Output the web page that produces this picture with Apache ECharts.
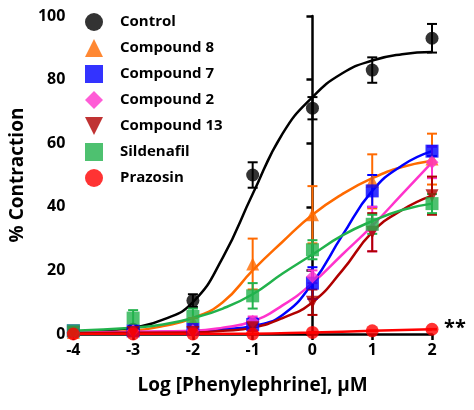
<!DOCTYPE html>
<html><head><meta charset="utf-8">
<script src="https://cdn.jsdelivr.net/npm/echarts@6/dist/echarts.min.js"></script>
<style>html,body{margin:0;background:#fff}#c{width:474px;height:410px}</style>
</head><body><div id="c"></div>
<script>
// measured points [logX, mean, sem]
var control = [[-4,0.5,0.5],[-3,1.5,0.5],[-2,10.5,2],[-1,50,4],[0,71,3.5],[1,83,4],[2,93,4.5]];
var comp8 = [[-4,0.5,0.5],[-3,1,0.5],[-2,4,1],[-1,22,8],[0,37.5,9],[1,48,8.5],[2,55,8]];
var comp7 = [[-4,1,0.5],[-3,1,0.5],[-2,1.5,1],[-1,3,2],[0,16,5],[1,45,5],[2,57.5,1.5]];
var comp2 = [[-4,0.5,0.5],[-3,1,0.5],[-2,1,0.5],[-1,4,1.5],[0,18,2],[1,33,7],[2,54,5]];
var comp13 = [[-4,0.5,0.5],[-3,0.5,0.5],[-2,0.5,0.5],[-1,2,1],[0,10,4],[1,32,6],[2,43.5,6]];
var sild = [[-4,1,0.5],[-3,5,2.5],[-2,5.5,2.5],[-1,12,4],[0,26.5,3],[1,34.5,3],[2,41,3]];
var praz = [[-4,0,0.1],[-3,0,0.1],[-2,0,0.1],[-1,0,0.1],[0,0.5,0.1],[1,1,0.1],[2,1.5,0.1]];

// fitted curves
var fitControl = [[-4,0.5],[-3.5,1],[-3,2],[-2.5,4.5],[-2,10],[-1.5,24],[-1,44],[-0.5,63],[0,74.5],[0.5,82],[1,86],[1.5,88],[2,88.7]];
var fit8 = [[-4,0],[-3,1],[-2.5,2.5],[-2,5],[-1.5,10],[-1,20],[-0.5,29],[0,37.5],[0.5,44],[1,49],[1.5,52.5],[2,54.5]];
var fit7 = [[-4,0.5],[-2,0.8],[-1.5,1.5],[-1,2.5],[-0.5,6],[0,16],[0.5,31],[1,45],[1.5,53],[2,57.5]];
var fit2 = [[-4,0.5],[-3,0.7],[-2,1],[-1.5,2],[-1,4],[-0.5,9],[0,16],[0.5,25],[1,34],[1.5,44],[2,54]];
var fit13 = [[-4,0.3],[-2,0.5],[-1.5,1],[-1,2],[-0.5,5],[0,10],[0.5,20],[1,32],[1.5,39],[2,43.5]];
var fitSild = [[-4,1],[-3,2],[-2.5,3],[-2,5],[-1.5,8],[-1,12.5],[-0.5,19],[0,25],[0.5,31],[1,35.5],[1.5,39],[2,41]];
var fitPraz = [[-4,0],[-1,0.1],[0,0.5],[1,1],[2,1.5]];

var names = ['Control','Compound 8','Compound 7','Compound 2','Compound 13','Sildenafil','Prazosin'];
var colors = ['#000000','#ff6a00','#0000ff','#ff33cc','#b00000','#22b24c','#ff0000'];
var symbols = ['circle','triangle','rect','diamond','path://M0,0L10,0L5,10Z','rect','circle'];
var pts = [control,comp8,comp7,comp2,comp13,sild,praz];
var fits = [fitControl,fit8,fit7,fit2,fit13,fitSild,fitPraz];

var series = [];
for (var i = 0; i < names.length; i++) {
  series.push({type:'line', data:fits[i], smooth:true, showSymbol:false, silent:true,
    lineStyle:{color:colors[i], width:2.5}, z:2});
  series.push({type:'custom', data:pts[i], z:3, silent:true,
    dimensions:['x','y','e'], encode:{x:0, y:1},
    renderItem:(function(c){return function(params, api){
      var x = api.value(0), m = api.value(1), e = api.value(2);
      var t = api.coord([x,m+e]), b = api.coord([x,m-e]);
      var s = {stroke:c, lineWidth:2};
      return {type:'group', children:[
        {type:'line', shape:{x1:t[0],y1:t[1],x2:b[0],y2:b[1]}, style:s},
        {type:'line', shape:{x1:t[0]-5,y1:t[1],x2:t[0]+5,y2:t[1]}, style:s},
        {type:'line', shape:{x1:b[0]-5,y1:b[1],x2:b[0]+5,y2:b[1]}, style:s}]};
    };})(colors[i])});
  series.push({type:'scatter', name:names[i], data:pts[i].map(function(p){return [p[0],p[1]];}),
    symbol:symbols[i], symbolSize:13, itemStyle:{color:colors[i]}, z:4});
}

var chart = echarts.init(document.getElementById('c'));
chart.setOption({
  animation:false,
  grid:{left:68, right:42, top:16, bottom:76},
  legend:{data:names, orient:'vertical', left:80, top:8, itemGap:8, itemWidth:18, itemHeight:18,
    textStyle:{fontSize:15, fontWeight:'bold', fontFamily:'Open Sans', color:'#000', padding:[0,0,0,12]}},
  xAxis:{type:'value', min:-4, max:2, interval:1,
    name:'Log [Phenylephrine], μM', nameLocation:'middle', nameGap:42,
    nameTextStyle:{fontSize:19, fontWeight:'bold', fontFamily:'Open Sans', color:'#000'},
    axisLine:{onZero:false, lineStyle:{color:'#000', width:2.5}},
    axisTick:{length:6, lineStyle:{width:2.5}},
    axisLabel:{fontSize:16, fontWeight:'bold', fontFamily:'Open Sans', color:'#000'},
    splitLine:{show:false}},
  yAxis:{type:'value', min:0, max:100, interval:20,
    name:'% Contraction', nameLocation:'middle', nameGap:40,
    nameTextStyle:{fontSize:19, fontWeight:'bold', fontFamily:'Open Sans', color:'#000'},
    axisLine:{show:true, lineStyle:{color:'#000', width:2.5}},
    axisTick:{show:true, length:6, lineStyle:{width:2.5}},
    axisLabel:{fontSize:16, fontWeight:'bold', fontFamily:'Open Sans', color:'#000'},
    splitLine:{show:false}},
  graphic:[{type:'text', left:444, top:318, style:{text:'**', fontSize:20, fontWeight:'bold', fill:'#000', fontFamily:'Open Sans'}}],
  series:series
});
</script></body></html>
